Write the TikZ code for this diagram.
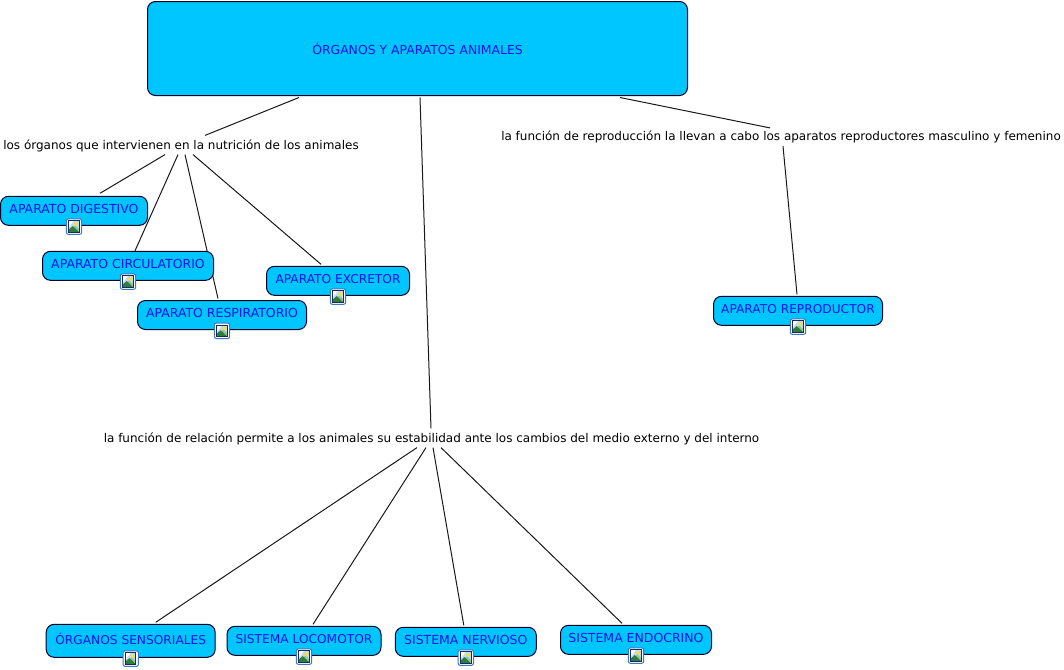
\documentclass[tikz,border=0pt]{standalone}
\usepackage{fontspec}
\setmainfont{DejaVu Sans}
\usetikzlibrary{calc,backgrounds}
\definecolor{boxfill}{HTML}{00C6FF}
\definecolor{boxtext}{HTML}{0A14F0}
\definecolor{iconblue}{HTML}{3F78C8}
\definecolor{iconnavy}{HTML}{1A2A5A}
\definecolor{iconsky}{HTML}{C4D8F4}
\definecolor{iconhill}{HTML}{2E7D3C}
\definecolor{iconhilltwo}{HTML}{8FC79A}
\tikzset{
  x=0.75pt, y=-0.75pt,
  concept/.style={draw=black!85!blue, line width=0.75pt, fill=boxfill, text=boxtext, rounded corners=6pt,
    inner xsep=0pt, inner ysep=0pt, font=\fontsize{9.35}{11}\selectfont,
    text height=12.75pt, text depth=9pt},
  tighter/.style={font=\fontsize{9.15}{11}\selectfont},
  phrase/.style={text=black, inner xsep=0pt, inner ysep=0pt, font=\fontsize{9}{11}\selectfont,
    text height=10pt, text depth=4pt},
  conn/.style={draw=black!90, line width=0.75pt},
  picicon/.pic={
    \draw[draw=iconblue, fill=white, line width=0.75pt, rounded corners=1.5pt] (-7.7,-7.7) rectangle (7.7,7.7);
    \fill[fill=iconsky] (-5.2,-5.7) rectangle (5.2,5.7);
    \fill[fill=white] (-5.2,-5.7) -- (0,-5.7) -- (-5.2,1) -- cycle;
    \fill[fill=iconhilltwo] (-1,0) -- (1.5,-1) -- (5.2,2.5) -- (5.2,5.7) -- (2,5.7) -- cycle;
    \fill[fill=iconhill] (-5.2,5.7) -- (-5.2,3) -- (-1.5,-0.5) -- (1,1.5) -- (5.2,5.7) -- cycle;
    \fill[fill=yellow!90!orange] (2,-2.6) circle (1.8);
    \draw[draw=iconnavy, line width=0.7pt] (-5.2,-5.7) rectangle (5.2,5.7);
  }
}
\begin{document}
\begin{tikzpicture}
\useasboundingbox (0,0) rectangle (1064,669);
% main concept
\node[concept, minimum width=405pt, font=\fontsize{9.3}{11}\selectfont, text height=39.4pt, text depth=31.1pt] (title) at (417.5,48.5) {ÓRGANOS Y APARATOS ANIMALES};
% linking phrases
\node[phrase] (nutri) at (181,145) {los órganos que intervienen en la nutrición de los animales};
\node[phrase] (repro) at (781,136.5) {la función de reproducción la llevan a cabo los aparatos reproductores masculino y femenino};
\node[phrase] (relac) at (431.5,438) {la función de relación permite a los animales su estabilidad ante los cambios del medio externo y del interno};
% concepts
\node[concept, minimum width=110.25pt] (dig) at (74,210.8) {APARATO DIGESTIVO};
\node[concept, minimum width=128.25pt] (cir) at (128,265.8) {APARATO CIRCULATORIO};
\node[concept, minimum width=126.75pt] (res) at (222,315) {APARATO RESPIRATORIO};
\node[concept, tighter, minimum width=107.25pt] (exc) at (338,280.8) {APARATO EXCRETOR};
\node[concept, tighter, minimum width=126.75pt] (rep) at (798,310.8) {APARATO REPRODUCTOR};
\node[concept, tighter, minimum width=126.75pt, text height=15.5pt, text depth=9.25pt] (org) at (130.7,640.8) {ÓRGANOS SENSORIALES};
\node[concept, tighter, minimum width=115.5pt] (loc) at (304,640.8) {SISTEMA LOCOMOTOR};
\node[concept, minimum width=105.75pt] (ner) at (465.8,641.8) {SISTEMA NERVIOSO};
\node[concept, minimum width=113.25pt] (end) at (636,639.8) {SISTEMA ENDOCRINO};
% image icons
\foreach \n in {dig,cir,res,exc,rep,org,loc,ner,end}
  \path ($(\n.south)+(0,0.8)$) pic {picicon};
% connectors
\begin{scope}[on background layer]
\draw[conn] ($(title.south)+(-118.5,1.5)$) -- ($(nutri.north)+(24,0)$);
\draw[conn] ($(title.south)+(2.5,1.5)$) -- ($(relac.north)+(-0.5,0)$);
\draw[conn] ($(title.south)+(202.5,1.5)$) -- ($(repro.north)+(-11,1)$);
\draw[conn] ($(nutri.south)+(-16,0)$) -- ($(dig.north)+(26,-2.5)$);
\draw[conn] ($(nutri.south)+(-3,0)$) -- ($(cir.north)+(7,0)$);
\draw[conn] ($(nutri.south)+(4,0)$) -- ($(res.north)+(-4,-1.5)$);
\draw[conn] ($(nutri.south)+(12,0)$) -- ($(exc.north)+(-17,-1.5)$);
\draw[conn] ($(repro.south)+(2,0)$) -- ($(rep.north)+(-1,-1.5)$);
\draw[conn] ($(relac.south)+(-14.5,0)$) -- ($(org.north)+(25,-1.5)$);
\draw[conn] ($(relac.south)+(-5.5,0)$) -- ($(loc.north)+(9,-1.5)$);
\draw[conn] ($(relac.south)+(1.5,0)$) -- ($(ner.north)+(-2,-1.5)$);
\draw[conn] ($(relac.south)+(9.5,0)$) -- ($(end.north)+(-14,-1.5)$);
\end{scope}
\end{tikzpicture}
\end{document}
